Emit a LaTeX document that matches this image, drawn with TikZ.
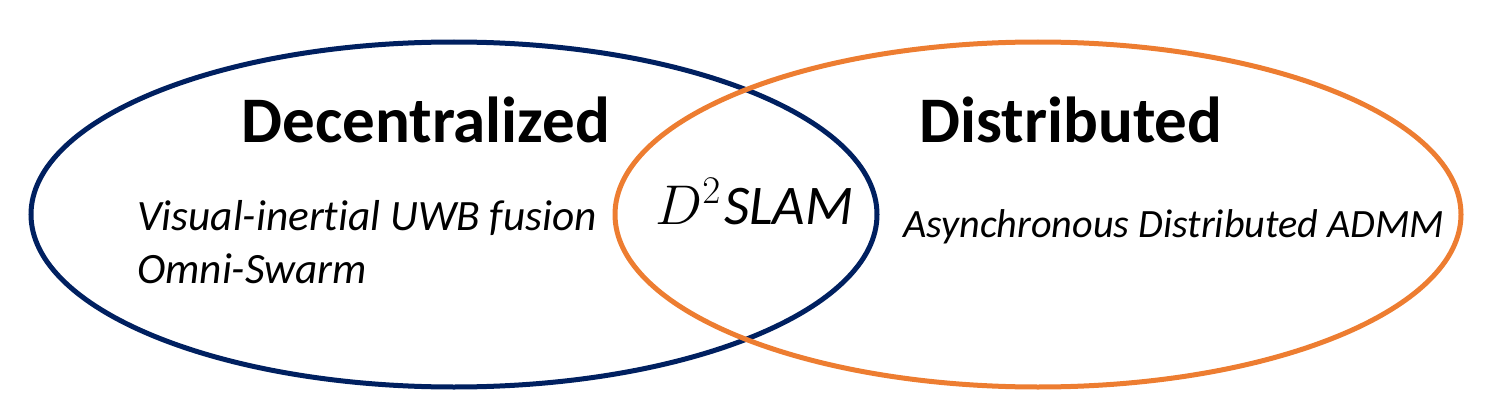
\RequirePackage{fix-cm}
\documentclass[tikz,border=0pt]{standalone}
\usepackage{fontspec}
\setmainfont[Ligatures=NoCommon]{Carlito}
\usetikzlibrary{shapes.geometric}
\definecolor{navy}{HTML}{002060}
\definecolor{orng}{HTML}{ED7D31}
\begin{document}
\begin{tikzpicture}[x=1pt,y=-1pt,
  venn/.style={ellipse, line width=5pt, minimum width=846pt, minimum height=345pt, inner sep=0pt},
  title/.style={inner sep=0pt, font=\fontsize{65}{78}\selectfont\bfseries},
  item/.style={inner sep=0pt, font=\fontsize{43.3}{52}\selectfont\itshape},
  itemsmall/.style={inner sep=0pt, font=\fontsize{40.2}{48}\selectfont\itshape},
  core/.style={inner sep=0pt, font=\fontsize{56}{67}\selectfont},
  coreit/.style={inner sep=0pt, font=\fontsize{56}{67}\selectfont\itshape}]
\useasboundingbox (0,0) rectangle (1492,420);
\node[venn, draw=navy] (dec) at (454,214.5) {};
\node[venn, draw=orng] (dis) at (1038,214.5) {};
\node[title, anchor=base] (dect) at (426,142) {Decentralized};
\node[title, anchor=base] (dist) at (1071,142) {Distributed};
\node[item, anchor=base west] (vi) at (137,230) {Visual-inertial UWB fusion};
\node[item, anchor=base west] (om) at (137,283) {Omni-Swarm};
\node[core, anchor=base west] (d2) at (655,224) {$D^{2}$};
\node[coreit, anchor=base west] (slam) at ([xshift=3pt]d2.base east) {SLAM};
\node[itemsmall, anchor=base west] (adm) at (903,237) {Asynchronous Distributed ADMM};
\end{tikzpicture}
\end{document}
